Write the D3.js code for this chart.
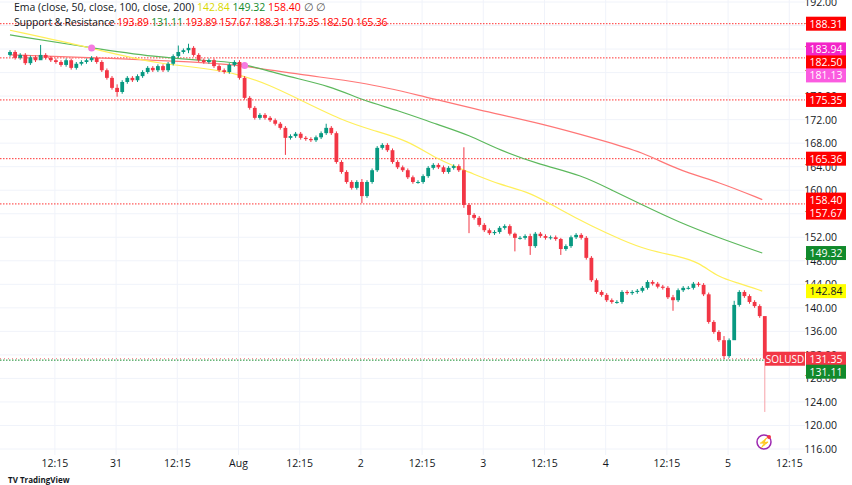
<!DOCTYPE html><html><head><meta charset="utf-8"><script src="https://cdn.jsdelivr.net/npm/d3@7"></script>
<style>body{margin:0;background:#fff}svg{font-family:"Open Sans",Arial,sans-serif}</style></head><body><svg id="c" width="852" height="485"></svg>
<script>
const firstOpen = 183.0;
const closes = [183.5,182.5,183.0,181.6,182.6,182.1,183.0,182.5,182.1,181.8,181.3,182.1,180.8,181.5,181.8,182.1,182.5,181.8,180.4,179.1,177.4,176.7,178.4,179.1,178.7,179.4,180.1,180.8,180.4,181.1,180.4,181.5,182.8,183.5,183.8,184.2,183.0,182.1,181.8,182.1,181.1,180.4,180.1,181.3,181.8,179.1,175.7,174.0,172.3,172.8,172.3,171.9,171.3,170.6,168.9,169.2,169.6,168.9,168.7,168.5,169.0,169.7,170.6,169.7,164.8,163.1,161.4,160.4,161.4,159.0,161.4,163.4,167.2,167.7,166.8,164.8,163.9,163.4,162.2,161.4,161.4,162.4,163.8,164.3,163.9,163.1,163.8,164.1,163.4,157.5,155.8,155.3,154.1,153.2,152.7,152.9,153.6,153.9,152.6,151.9,151.9,152.2,150.5,152.6,152.2,151.9,152.0,151.7,150.0,150.5,152.0,152.4,151.9,148.5,144.7,142.7,142.2,141.3,141.0,141.0,142.7,142.5,142.7,142.9,143.4,144.4,144.1,143.6,143.4,141.8,141.3,143.0,143.4,143.4,144.1,143.9,142.3,137.6,135.9,134.5,131.8,134.5,140.5,142.7,142.0,141.0,140.3,138.6,131.35];
// notable wicks: index -> [high, low]
const wicks = {6:[184.7,182.3],21:[178.0,175.9],33:[184.6,182.5],35:[184.9,183.3],54:[170.9,166.0],62:[171.3,169.4],69:[161.9,157.8],89:[167.3,157.0],90:[157.8,152.7],99:[152.8,149.6],102:[152.6,149.0],108:[151.9,149.0],130:[142.2,139.5],140:[135.2,131.3],142:[141.2,139.0],148:[135.6,122.3]};
const emaY = [[0,187.2],[16,184.2],[29,181.3],[45,180.4],[57,175.3],[65,171.9],[71,170.2],[78,168.5],[84,165.1],[90,163.1],[96,160.9],[102,159.7],[108,156.6],[114,153.9],[120,151.5],[125,149.8],[131,148.8],[135,147.8],[139,145.1],[143,144.2],[147.5,142.84]];
const emaG = [[0,186.4],[16,184.2],[29,182.6],[37,182.1],[45,181.8],[53,179.6],[63,177.7],[69,175.3],[76,173.6],[84,171.1],[90,169.4],[96,166.8],[104,164.3],[112,162.6],[118,160.0],[124,157.5],[131,154.6],[139,151.9],[147.5,149.32]];
const emaR = [[0,183.0],[18,182.5],[37,181.8],[45,181.3],[57,179.6],[69,178.4],[80,176.2],[92,173.6],[104,171.4],[116,168.5],[124,166.5],[131,163.4],[139,161.4],[147.5,158.40]];
const crossDots = [[16,184.2],[46,181.2]];
const srLevels = [188.31,182.50,175.35,165.36,157.67];
const priceTicks = d3.range(116,193,4);
const timeLabels = [["12:15",8.8],["31",20.8],["12:15",32.8],["Aug",44.8],["12:15",56.8],["2",68.8],["12:15",80.8],["3",92.8],["12:15",104.8],["4",116.8],["12:15",128.8],["5",140.8],["12:15",152.8]];
const badges = [[188.31,"#f00"],[183.94,"#f325c8"],[182.50,"#f00"],[181.13,"#fb5be0"],[175.35,"#f00"],[165.36,"#f00"],[158.40,"#f00"],[157.67,"#f00"],[149.32,"#118a2c"],[142.84,"#ffff00"],[131.35,"#f23645"],[131.11,"#118a2c"]];

const svg = d3.select("#c");
const x = d3.scaleLinear().domain([0,1]).range([10,15.1]);
const y = d3.scaleLinear().domain([192,116]).range([2,449]);
const W=805;
svg.append("g").selectAll("line").data(priceTicks).join("line").attr("x1",0).attr("x2",W).attr("y1",d=>y(d)).attr("y2",d=>y(d)).attr("stroke","#f0f3fa");
svg.append("g").selectAll("line").data(timeLabels).join("line").attr("x1",d=>x(d[1])).attr("x2",d=>x(d[1])).attr("y1",0).attr("y2",455).attr("stroke","#f0f3fa");
svg.append("g").selectAll("line").data(srLevels).join("line").attr("x1",0).attr("x2",W).attr("y1",d=>y(d)).attr("y2",d=>y(d)).attr("stroke","#f00").attr("stroke-dasharray","1.5,1.5").attr("opacity",0.8);
svg.append("line").attr("x1",0).attr("x2",W).attr("y1",y(131.11)).attr("y2",y(131.11)).attr("stroke","#118a2c").attr("stroke-dasharray","1.5,1.5");
svg.append("line").attr("x1",0).attr("x2",W).attr("y1",y(131.35)).attr("y2",y(131.35)).attr("stroke","#f23645").attr("stroke-dasharray","1,3").attr("opacity",0.7);
const ln = d3.line().x(d=>x(d[0])).y(d=>y(d[1])).curve(d3.curveBasis);
[[emaR,"#f77"],[emaG,"#5cb85c"],[emaY,"#ffef5a"]].forEach(([d,c])=>svg.append("path").attr("d",ln(d)).attr("fill","none").attr("stroke",c).attr("stroke-width",1.2));
svg.selectAll(".cd").data(crossDots).join("circle").attr("cx",d=>x(d[0])).attr("cy",d=>y(d[1])).attr("r",3.5).attr("fill","#f57be0");
const candles = closes.map((c,i)=>{const o=i?closes[i-1]:firstOpen;const w=wicks[i];return {i,o,c,h:w?w[0]:Math.max(o,c)+0.3,l:w?w[1]:Math.min(o,c)-0.3};});
const g=svg.append("g");
candles.forEach(d=>{const col=d.c>=d.o?"#089981":"#f23645";const last=d.i===candles.length-1;
 g.append("line").attr("x1",x(d.i)).attr("x2",x(d.i)).attr("y1",y(d.h)).attr("y2",y(d.l)).attr("stroke",last?"#f7a1a9":col).attr("stroke-width",1);
 g.append("rect").attr("x",x(d.i)-1.9).attr("width",3.8).attr("y",y(Math.max(d.o,d.c))).attr("height",Math.max(1,y(Math.min(d.o,d.c))-y(Math.max(d.o,d.c)))).attr("fill",col);});
svg.append("g").selectAll("text").data(priceTicks).join("text").attr("x",837).attr("y",d=>y(d)+4).attr("text-anchor","end").attr("font-size",10.5).attr("fill","#131722").text(d=>d.toFixed(2));
svg.append("g").selectAll("text").data(timeLabels).join("text").attr("x",d=>x(d[1])).attr("y",467).attr("text-anchor","middle").attr("font-size",10.5).attr("fill","#131722").text(d=>d[0]);
// stack badges without overlap
let prev=-1e9; const pos=badges.map(([v,c])=>{let yy=y(v); if(yy<prev+13) yy=prev+13; prev=yy; return [v,c,yy];});
// relax upward for groups
const bg=svg.append("g");
pos.forEach(([v,c,yy])=>{bg.append("rect").attr("x",806).attr("y",yy-7).attr("width",40).attr("height",14).attr("fill",c);
 bg.append("text").attr("x",826).attr("y",yy+4).attr("text-anchor","middle").attr("font-size",10.5).attr("fill",c==="#ffff00"?"#131722":"#fff").text(v.toFixed(2));});
svg.append("rect").attr("x",765).attr("y",y(131.35)-7).attr("width",40).attr("height",14).attr("fill","#f23645");
svg.append("text").attr("x",785).attr("y",y(131.35)+4).attr("text-anchor","middle").attr("font-size",10).attr("fill","#fff").text("SOLUSD");
svg.append("circle").attr("cx",764).attr("cy",442).attr("r",7).attr("fill","none").attr("stroke","#9c27b0").attr("stroke-width",1.5);
svg.append("text").attr("x",764).attr("y",446).attr("text-anchor","middle").attr("font-size",10).attr("fill","#9c27b0").text("⚡");
svg.append("circle").attr("cx",769).attr("cy",437).attr("r",2).attr("fill","#f23645");
const L1=svg.append("text").attr("x",14).attr("y",11).attr("font-size",10.5);
[["Ema (close, 50, close, 100, close, 200)  ","#131722"],["142.84  ","#d8d800"],["149.32  ","#118a2c"],["158.40  ","#f00"],["∅  ∅","#555"]].forEach(([t,c])=>L1.append("tspan").attr("fill",c).text(t));
const L2=svg.append("text").attr("x",14).attr("y",26).attr("font-size",10.5).attr("letter-spacing",-0.2);
[["Support & Resistance ","#131722"],["193.89 ","#f00"],["131.11 ","#118a2c"],["193.89 157.67 188.31 175.35 182.50 165.36","#f00"]].forEach(([t,c])=>L2.append("tspan").attr("fill",c).text(t));
svg.append("text").attr("x",8).attr("y",483).attr("font-size",8).attr("font-weight","bold").attr("fill","#131722").text("TV TradingView");
</script></body></html>
